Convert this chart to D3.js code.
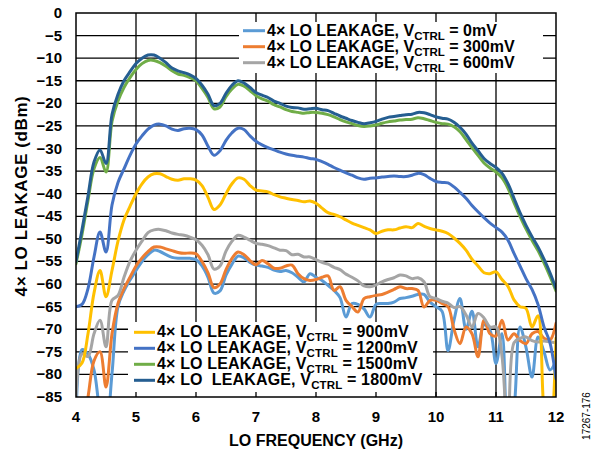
<!DOCTYPE html>
<html><head><meta charset="utf-8">
<script src="https://cdn.jsdelivr.net/npm/d3@7"></script>
<style>
body{margin:0;background:#fff}
svg{display:block}
text{font-family:"Liberation Sans",Arial,sans-serif;font-weight:bold;fill:#000}
</style>
</head><body><svg id="c" width="592" height="452"></svg>
<script>
const freqs = [4.0,4.1,4.2,4.3,4.4,4.5,4.6,4.7,4.8,4.9,5.0,5.1,5.2,5.3,5.4,5.5,5.6,5.7,5.8,5.9,
6.0,6.1,6.2,6.3,6.4,6.5,6.6,6.7,6.8,6.9,7.0,7.1,7.2,7.3,7.4,7.5,7.6,7.7,7.8,7.9,
8.0,8.1,8.2,8.3,8.4,8.5,8.6,8.7,8.8,8.9,9.0,9.1,9.2,9.3,9.4,9.5,9.6,9.7,9.8,9.9,
10.0,10.1,10.2,10.3,10.4,10.5,10.6,10.7,10.8,10.9,11.0,11.1,11.2,11.3,11.4,11.5,11.6,11.7,11.8,11.9,12.0];

const v0mV = [-92,-74.5,-75.5,-79,-88,-92,-79.8,-65,-61.5,-59.1,-57,-55,-53.5,-52.5,-52.8,-53.5,-54.1,-54.3,-54.3,-54.3,
-54.6,-56,-58.5,-62,-61.5,-58,-55.6,-53.8,-54.2,-55.2,-55.8,-56,-56.3,-56.9,-57.2,-57,-57.5,-58.5,-59.5,-57.7,
-58.5,-59.2,-60.3,-61.4,-63,-67.3,-64.3,-64.5,-65.5,-67.3,-64.5,-64.3,-64.3,-64,-63.2,-63,-62.7,-62.3,-62.3,-64,
-65,-66,-74.7,-68,-63.2,-70,-66,-73.9,-69,-70.2,-77.6,-71,-95,-88,-69.5,-74,-80.6,-71.7,-75,-79,-77];

const v300mV = [-100,-92,-85,-77,-75,-82.8,-71,-64.3,-61,-58.5,-56,-54.2,-52.8,-51.8,-51.8,-52.2,-52.6,-53,-53.2,-53.1,
-53.3,-55,-57.5,-60.8,-60,-56.8,-54.3,-52.9,-53.5,-54.8,-55.7,-54.8,-55.5,-56.5,-56.5,-56,-55.8,-57.7,-58.8,-59.2,
-59,-58.5,-58.2,-61.4,-60.6,-63.6,-65,-66.2,-63.2,-62.8,-62.5,-62.3,-61.8,-61.2,-60.6,-61,-61,-61.4,-65.1,-63.6,
-63.6,-64.3,-65,-70,-73.2,-69.5,-71,-76.1,-68,-71,-71.5,-68,-72.4,-71,-72.5,-73.2,-71,-70.5,-72,-72.4,-68.7];

const v600mV = [-85,-75.5,-76,-71,-68,-73.9,-63.6,-62.5,-58.5,-55,-52.5,-50.5,-48.6,-48,-47.9,-48.2,-48.7,-49,-49.2,-49.6,
-50.2,-51.4,-53.5,-56.7,-56,-52.7,-50.5,-49.2,-49.6,-50.3,-51,-51.2,-51.5,-52,-52.5,-52.6,-53.5,-53.4,-54,-54,
-54.6,-55.2,-55.6,-56.3,-56.8,-57.8,-58.5,-59.3,-60.4,-60.6,-60.2,-59.5,-59,-58.6,-58,-58.2,-58.8,-58.6,-59.5,-62.8,
-63.2,-63.8,-64.2,-65.2,-65,-66.8,-69.5,-66.5,-67.5,-69.5,-69.5,-76,-95,-73,-72,-71.7,-72.5,-72.8,-72.6,-72.8,-73];

const v900mV = [-78.7,-77.5,-71,-62,-57,-62.8,-57,-50.5,-45.8,-42.8,-40,-37.8,-36.3,-35.6,-35.6,-36.2,-36.8,-37,-36.7,-36.7,
-37,-38.2,-40.8,-43.5,-42.5,-40,-37.8,-36.5,-36.8,-38.2,-39.2,-39.4,-39.6,-40.2,-40.7,-41,-41.3,-41.5,-41.8,-41.6,
-42.1,-43.2,-44.2,-44.6,-45.1,-45.8,-46.5,-47,-47.5,-48,-48.8,-48.3,-48,-48,-47.6,-47.3,-47.5,-46.6,-47.2,-47.7,
-48,-48.3,-48.8,-49.8,-51,-52.5,-54.5,-56,-57.5,-57.7,-57.3,-59,-60.5,-63.5,-65,-65.4,-69.5,-67,-88,-95,-72];

const v1200mV = [-65,-64.5,-61,-54,-48.5,-52.9,-42.5,-37.5,-34.5,-31.5,-29,-27.2,-25.7,-24.8,-24.6,-25,-25.7,-26,-25.6,-25.5,
-25.8,-27,-29.5,-31.5,-30.5,-28.2,-26.5,-25.5,-25.8,-27.2,-28.4,-29.2,-29.8,-30.3,-30.8,-31.2,-31.5,-31.7,-31.9,-32.2,
-32.4,-32.9,-33.5,-34.2,-34.8,-35.4,-35.9,-36.5,-36.8,-36.6,-36.5,-36.3,-36.2,-36.1,-36.2,-36.2,-35.9,-35.5,-35.8,-36.6,
-37.3,-37.5,-37.6,-38.5,-39.7,-41,-42.6,-44,-45.3,-46.5,-47.5,-48.5,-50.3,-53.2,-56,-58.8,-61.2,-64.5,-69.5,-73,-81];

const v1500mV = [-55.5,-49,-41.5,-34.5,-32,-35.2,-24,-19.5,-16.5,-14.3,-12.5,-11.2,-10.5,-10.5,-11,-11.8,-12.8,-13.5,-13.8,-14.3,
-15,-16.7,-18.7,-21.2,-20.8,-18.5,-16.8,-15.8,-16.2,-17.2,-18.3,-19,-19.5,-20.3,-20.8,-21.4,-21.8,-22,-22.2,-22,
-22,-22.2,-22.5,-23,-23.6,-24.1,-24.5,-24.9,-25.1,-25,-24.8,-24.4,-24.1,-23.9,-23.7,-23.6,-23.5,-23.2,-23.4,-23.8,
-24.2,-24.5,-24.6,-25.2,-26.3,-28,-29.8,-31.5,-33.2,-34.3,-35.2,-36.5,-38.8,-42,-45,-47.8,-50.3,-52.6,-55.3,-58.3,-61.5];

const v1800mV = [-55,-48,-40.5,-33,-30.3,-33.3,-22.5,-18,-15,-13,-11.2,-10,-9.3,-9.3,-10,-11,-12.2,-12.8,-13.2,-13.7,
-14.5,-16,-18,-20.5,-20,-17.8,-16,-15,-15.5,-16.5,-17.6,-18.2,-18.7,-19.5,-20,-20.6,-20.9,-21,-21.3,-21.2,
-21.1,-21.4,-21.6,-22.2,-22.8,-23.3,-23.8,-24.2,-24.5,-24.3,-24,-23.5,-23.1,-22.9,-22.7,-22.5,-22.4,-22,-22.1,-22.5,
-23,-23.3,-23.5,-24.2,-25.3,-26.8,-28.8,-30.5,-32.2,-33.3,-34.2,-35.5,-37.8,-41,-44.2,-47,-49.5,-51.8,-54.5,-57.5,-61];

const xTicks = [4,5,6,7,8,9,10,11,12];
const yTicks = [0,-5,-10,-15,-20,-25,-30,-35,-40,-45,-50,-55,-60,-65,-70,-75,-80,-85];
const seriesNames = ["0mV","300mV","600mV","900mV","1200mV","1500mV","1800mV"];
const seriesColors = ["#5B9BD5","#ED7D31","#A5A5A5","#FFC000","#4472C4","#70AD47","#255E91"];
const seriesValues = [v0mV,v300mV,v600mV,v900mV,v1200mV,v1500mV,v1800mV];
const legendPrefixes = ["4× LO LEAKAGE, V","4× LO LEAKAGE, V","4× LO LEAKAGE, V","4× LO LEAKAGE, V","4× LO LEAKAGE, V","4× LO LEAKAGE, V","4× LO  LEAKAGE, V"];
const xTitle = "LO FREQUENCY (GHz)";
const yTitle = "4× LO LEAKAGE (dBm)";
const figId = "17267-176";

const svg = d3.select("#c");
const L = 76, R = 556, T = 13, B = 397;
const x = d3.scaleLinear().domain([4,12]).range([L,R]);
const y = d3.scaleLinear().domain([-85,0]).range([B,T]);

// grid
const g = svg.append("g");
g.selectAll("line.v").data(xTicks.slice(1,-1)).join("line")
  .attr("x1",d=>x(d)).attr("x2",d=>x(d)).attr("y1",T).attr("y2",B)
  .attr("stroke","#000").attr("stroke-width",1.3);
g.selectAll("line.h").data(yTicks.slice(1,-1)).join("line")
  .attr("x1",L).attr("x2",R).attr("y1",d=>y(d)).attr("y2",d=>y(d))
  .attr("stroke","#000").attr("stroke-width",1.3);

// clip
svg.append("clipPath").attr("id","pc").append("rect")
  .attr("x",L).attr("y",T).attr("width",R-L).attr("height",B-T);

const line = d3.line().x((d,i)=>x(freqs[i])).y(d=>y(d)).curve(d3.curveCatmullRom.alpha(0.5));
const sg = svg.append("g").attr("clip-path","url(#pc)");
seriesValues.forEach((vals,i)=>{
  sg.append("path").datum(vals).attr("d",line)
    .attr("fill","none").attr("stroke",seriesColors[i]).attr("stroke-width",3)
    .attr("stroke-linejoin","round").attr("stroke-linecap","round");
});

// legends
function legend(idx, bx, by, bw, bh, sx1, sx2, tx, base0, ls) {
  svg.append("rect").attr("x",bx).attr("y",by).attr("width",bw).attr("height",bh).attr("fill","#fff");
  idx.forEach((si,k)=>{
    const yb = base0 + k*16;
    svg.append("line").attr("x1",sx1).attr("x2",sx2).attr("y1",yb-5).attr("y2",yb-5)
      .attr("stroke",seriesColors[si]).attr("stroke-width",3);
    const t = svg.append("text").attr("x",tx).attr("y",yb).attr("font-size",16)
      .attr("letter-spacing",ls)
      .style("white-space","pre").attr("xml:space","preserve");
    t.append("tspan").text(legendPrefixes[si]);
    t.append("tspan").attr("font-size",11.5).attr("dy",4).text("CTRL");
    t.append("tspan").attr("dy",-4).text(" = " + seriesNames[si]);
  });
}
legend([0,1,2], 239, 22, 304, 51, 243, 265, 267, 35.7, 0);
legend([3,4,5,6], 128, 322, 305, 75, 134, 155, 157, 337.3, 0.15);

// bottom inner ticks
svg.selectAll("line.bt").data(xTicks.slice(1,-1)).join("line")
  .attr("x1",d=>x(d)).attr("x2",d=>x(d)).attr("y1",B-5).attr("y2",B)
  .attr("stroke","#000").attr("stroke-width",1.3);

// border
svg.append("rect").attr("x",L).attr("y",T).attr("width",R-L).attr("height",B-T)
  .attr("fill","none").attr("stroke","#000").attr("stroke-width",1.5);

// tick labels
svg.selectAll("text.yt").data(yTicks).join("text")
  .attr("x",62).attr("y",d=>y(d)+5).attr("text-anchor","end").attr("font-size",15)
  .text(d=> d===0 ? "0" : "\u2212" + Math.abs(d));
svg.selectAll("text.xt").data(xTicks).join("text")
  .attr("x",d=>x(d)).attr("y",422).attr("text-anchor","middle").attr("font-size",15)
  .text(d=>d);

svg.append("text").attr("x",316).attr("y",446).attr("text-anchor","middle").attr("font-size",16).text(xTitle);
svg.append("text").attr("transform",`translate(27,196) rotate(-90)`).attr("text-anchor","middle")
  .attr("font-size",17).attr("letter-spacing",0.6).text(yTitle);
svg.append("text").attr("transform","translate(590,416) rotate(-90)").attr("text-anchor","middle")
  .attr("font-size",10).style("font-weight","normal").text(figId);
</script></body></html>
